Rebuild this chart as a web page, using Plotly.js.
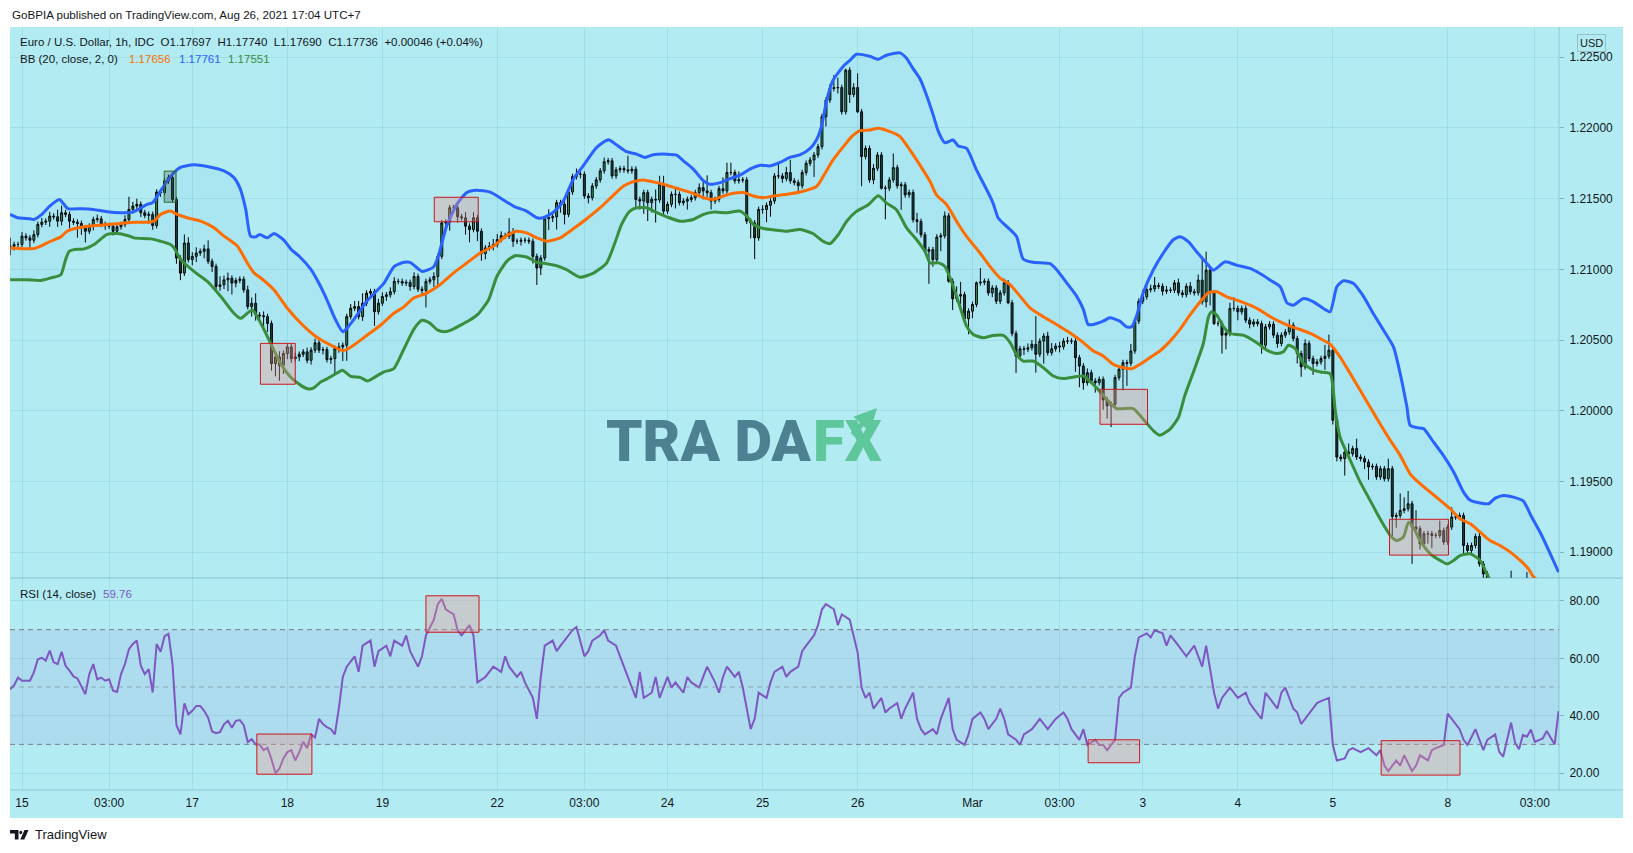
<!DOCTYPE html>
<html><head><meta charset="utf-8">
<script src="https://cdn.plot.ly/plotly-3.0.1.min.js"></script>
<style>html,body{margin:0;padding:0;background:#fff;}#chart{width:1633px;height:853px;}</style>
</head><body><div id="chart"></div>
<script>
// ---------- DATA ----------
const firstBar = -3;           // bar index of first candle (Feb 12 late hours)
const firstOpen = 1.21150;
const closes = [
1.21164,1.21176,1.21176,1.21235,1.21223,1.21206,1.21246,1.21318,1.21334,1.21341,
1.21377,1.21372,1.21341,1.21401,1.21389,1.21341,1.21334,1.21325,1.21294,1.21270,
1.21306,1.21353,1.21358,1.21318,1.21310,1.21306,1.21270,1.21301,1.21318,1.21353,
1.21424,1.21448,1.21460,1.21401,1.21382,1.21389,1.21310,1.21547,1.21543,1.21626,
1.21649,1.21495,1.21080,1.20974,1.21187,1.21069,1.21092,1.21116,1.21128,1.21145,
1.21057,1.21021,1.20879,1.20891,1.20926,1.20938,1.20903,1.20922,1.20931,1.20855,
1.20737,1.20761,1.20678,1.20673,1.20666,1.20618,1.20334,1.20381,1.20322,1.20405,
1.20452,1.20369,1.20381,1.20400,1.20417,1.20357,1.20429,1.20481,1.20429,1.20433,
1.20362,1.20369,1.20441,1.20452,1.20464,1.20666,1.20725,1.20737,1.20666,1.20761,
1.20832,1.20843,1.20701,1.20761,1.20808,1.20820,1.20843,1.20915,1.20915,1.20903,
1.20908,1.20879,1.20950,1.20860,1.20851,1.20915,1.20927,1.20950,1.21092,1.21329,
1.21334,1.21436,1.21436,1.21372,1.21365,1.21306,1.21282,1.21365,1.21270,1.21111,
1.21152,1.21164,1.21175,1.21211,1.21239,1.21235,1.21263,1.21199,1.21199,1.21206,
1.21206,1.21199,1.21092,1.21010,1.21081,1.21358,1.21365,1.21372,1.21472,1.21460,
1.21389,1.21547,1.21656,1.21673,1.21673,1.21519,1.21507,1.21590,1.21633,1.21697,
1.21761,1.21768,1.21661,1.21704,1.21713,1.21704,1.21697,1.21709,1.21495,1.21483,
1.21543,1.21472,1.21495,1.21491,1.21602,1.21412,1.21460,1.21531,1.21531,1.21472,
1.21483,1.21495,1.21507,1.21543,1.21578,1.21555,1.21543,1.21483,1.21495,1.21571,
1.21555,1.21685,1.21685,1.21626,1.21633,1.21633,1.21341,1.21329,1.21223,1.21424,
1.21424,1.21453,1.21483,1.21661,1.21661,1.21642,1.21685,1.21626,1.21614,1.21591,
1.21685,1.21750,1.21774,1.21809,1.21868,1.22080,1.22197,1.22279,1.22284,1.22286,
1.22115,1.22409,1.22237,1.22286,1.22115,1.21798,1.21856,1.21633,1.21715,1.21809,
1.21574,1.21574,1.21633,1.21720,1.21591,1.21598,1.21527,1.21544,1.21351,1.21339,
1.21245,1.21128,1.21140,1.21069,1.21229,1.21238,1.21379,1.20916,1.20792,1.20811,
1.20822,1.20651,1.20705,1.20752,1.20905,1.20909,1.20916,1.20834,1.20869,1.20775,
1.20834,1.20905,1.20764,1.20547,1.20388,1.20439,1.20435,1.20446,1.20470,1.20400,
1.20493,1.20529,1.20411,1.20439,1.20458,1.20453,1.20493,1.20493,1.20493,1.20376,
1.20317,1.20199,1.20270,1.20211,1.20199,1.20223,1.20077,1.20035,1.20047,1.20235,
1.20294,1.20341,1.20336,1.20423,1.20634,1.20775,1.20806,1.20857,1.20862,1.20886,
1.20881,1.20846,1.20853,1.20853,1.20905,1.20834,1.20822,1.20881,1.20842,1.20835,
1.20924,1.20771,1.20995,1.20835,1.20617,1.20617,1.20535,1.20547,1.20724,1.20724,
1.20700,1.20724,1.20641,1.20613,1.20629,1.20617,1.20464,1.20594,1.20613,1.20535,
1.20476,1.20535,1.20558,1.20606,1.20511,1.20405,1.20311,1.20476,1.20370,1.20334,
1.20346,1.20370,1.20386,1.20429,1.19933,1.19673,1.19662,1.19709,1.19697,1.19733,
1.19673,1.19662,1.19638,1.19603,1.19607,1.19532,1.19591,1.19520,1.19591,1.19253,
1.19260,1.19296,1.19308,1.19343,1.19178,1.19166,1.19060,1.19131,1.19131,1.19119,
1.19119,1.19154,1.19072,1.19178,1.19249,1.19249,1.19260,1.19048,1.19013,1.19048,
1.19112,1.18918,1.18847,1.18760,1.18720,1.18690,1.18710,1.18680,1.18730,1.18760,
1.18700,1.18720,1.18690,1.18750,1.18720,1.18700,1.18740,1.18720,1.18710,1.18690,
1.18740,1.18760];
// upper / lower wick length beyond the body, in pips (0.0001)
const wickHiPips = [
6,2,2,3,2,2,3,2,3,2, 3,2,5,5,2,2,2,2,2,2, 2,2,3,2,2,2,2,2,2,3, 9,3,4,2,2,2,2,2,2,2,
2,4,2,2,6,4,3,4,2,3, 6,2,2,6,3,4,2,2,2,2, 3,4,7,2,3,2,2,3,4,2, 2,2,3,2,2,3,2,3,2,2,
2,2,2,3,2,2,3,4,4,7, 2,2,2,3,3,2,3,3,2,2, 2,2,3,2,2,2,2,3,2,2, 2,2,2,4,2,4,2,4,2,2,
2,3,4,4,3,2,10,3,2,2, 2,2,2,2,2,2,6,2,2,2, 5,2,2,4,2,2,2,2,2,2, 3,2,2,2,2,2,10,2,2,2,
2,2,2,7,6,6,2,2,5,2, 2,2,2,2,3,4,11,2,2,2, 8,7,7,2,6,2,2,2,2,2, 3,2,2,2,9,2,4,9,2,2,
2,2,2,2,2,2,2,3,9,7, 2,1,2,3,10,2,2,2,3,2, 2,2,2,10,2,2,2,2,2,5, 2,2,2,2,2,2,3,2,2,7,
9,2,2,2,1,10,2,2,2,2, 2,3,2,2,2,2,2,3,3,20, 2,2,3,4,2,3,2,3,2,2, 2,2,3,2,2,2,2,2,2,2,
2,2,2,5,2,2,5,2,3,6, 2,2,3,2,2,3,2,2,3,2, 4,15,13,2,2,2,2,2,4,8, 2,2,2,2,2,2,2,2,2,2,
2,2,2,4,2,2,2,3,2,2, 2,2,8,11,2,2,2,2,6,2, 7,2,2,2,2,2,2,2,7,2, 2,12,8,9,2,12,2,2,2,2,
2,7,2,2,7,2,2,2,2,2, 2,4,2,2,3,2,2,3,4,11, 2,3,4,11,2,2,3,2,2,2, 2,2];
const wickLoPips = [
5,3,2,2,2,6,2,2,2,2, 4,2,4,3,2,5,2,10,5,8, 2,3,2,2,3,2,3,2,2,2, 2,2,2,3,2,6,3,2,3,2,
2,2,4,5,2,2,4,4,2,5, 2,4,2,3,3,8,8,3,2,2, 2,7,4,3,8,6,5,9,11,6, 4,3,2,3,2,2,3,2,2,3,
2,3,11,3,10,11,2,2,2,3, 2,3,10,2,2,3,2,2,2,2, 2,3,2,2,4,12,2,5,6,2, 2,6,2,4,2,6,9,2,7,5,
4,2,3,2,2,2,2,4,2,3, 2,2,5,12,5,2,8,3,9,6, 7,2,2,2,3,2,4,2,2,2, 2,2,2,2,2,2,2,2,7,6,
9,13,7,16,2,2,2,2,10,2, 2,6,2,2,2,6,3,6,2,2, 2,2,2,2,2,2,2,11,15,2, 3,9,8,2,2,3,2,2,2,5,
2,2,2,12,2,2,7,2,2,4, 2,2,6,2,1,21,2,2,3,2, 1,22,2,2,2,17,2,2,2,8, 2,1,23,5,2,10,2,1,8,2,
6,3,11,5,2,2,2,2,3,2, 2,2,1,2,12,2,4,2,2,13, 2,16,2,2,2,4,2,2,2,10, 15,5,2,2,7,2,7,9,15,2,
2,15,16,2,2,2,2,2,2,2, 2,3,2,2,2,2,2,2,2,2, 2,2,4,9,1,2,13,10,2,2, 6,2,2,3,2,2,6,2,2,2,
3,2,2,2,2,7,7,2,2,8, 2,2,8,2,3,3,2,12,2,2, 2,2,5,9,2,2,2,2,2,14, 8,2,2,2,26,2,4,2,7,9,
2,2,2,2,2,2,2,6,2,2, 2,2,3,3,2,2,3,2,3,2, 2,2,2,2,2,3,2,2,2,2, 2,2];

// Bollinger Bands (20, close, 2) read at bar positions
const bbUpperBars = [-3,-1,2,3,5,7,9.5,10.6,11.6,15,18,21.5,25,28,31.6,33,35,36.7,38.4,40,43.4,46.8,51,53.5,55,56.5,57.7,59,60,62,63.6,66,68,70,73,75.4,77,79,81,82,84,85.5,87,89,91.4,94,96.5,98,101,103.9,105.1,107.2,109.8,112.3,114.8,118.2,120.7,124.1,127.4,130,131.6,134.2,136.7,139.2,141.7,145.1,148.1,150.2,152.7,155.2,157.3,159.4,162.8,165.3,167,169.5,172.1,173.7,176.3,178.8,181.3,183.8,186.4,188.9,191.4,193.9,196.4,199,200.6,201.9,203.2,204.8,207.4,209.1,210.7,214.1,216.2,218.3,221.7,223.4,225,226.7,228.4,230.1,231.4,233,235.1,236.4,238.5,241,243.6,245.2,246.5,248.6,251.1,252.8,255.3,259.6,261.2,263.8,266.3,268,269.2,270.5,273,274.7,277.2,278.9,280.2,281.4,283.1,285.7,288.2,290.7,292.4,294.5,296.6,299.2,300.8,303.8,306.7,310.1,312.6,315.2,317.7,319.4,321,323.6,326.1,328.6,330.3,332,333.7,336.2,338.7,341.2,343.8,346.3,348,349.7,350.5,352.2,353.9,356.4,358.9,361.5,364,365.7,368.2,370.3,372,374.1,376.6,379.1,381.2,383.3,385.9,388];
const bbUpper = [1.21389,1.21365,1.21358,1.21353,1.21389,1.21448,1.21495,1.21460,1.21429,1.21429,1.21424,1.21408,1.21401,1.21405,1.21460,1.21472,1.21555,1.21626,1.21685,1.21721,1.21740,1.21728,1.21697,1.21650,1.21578,1.21424,1.21235,1.21230,1.21247,1.21223,1.21254,1.21211,1.21140,1.21093,1.20998,1.20879,1.20785,1.20654,1.20559,1.20583,1.20654,1.20713,1.20773,1.20832,1.20903,1.21021,1.21050,1.21050,1.20986,1.21017,1.21092,1.21306,1.21460,1.21543,1.21559,1.21547,1.21507,1.21448,1.21412,1.21365,1.21365,1.21405,1.21483,1.21638,1.21732,1.21863,1.21917,1.21879,1.21832,1.21815,1.21792,1.21811,1.21815,1.21808,1.21768,1.21709,1.21626,1.21602,1.21614,1.21642,1.21666,1.21709,1.21737,1.21732,1.21756,1.21792,1.21809,1.21856,1.21915,1.22014,1.22197,1.22338,1.22437,1.22479,1.22521,1.22507,1.22486,1.22514,1.22531,1.22491,1.22420,1.22350,1.22232,1.22091,1.21974,1.21896,1.21915,1.21873,1.21856,1.21704,1.21563,1.21469,1.21363,1.21304,1.21234,1.21074,1.21050,1.21041,1.20999,1.20905,1.20811,1.20717,1.20611,1.20611,1.20634,1.20658,1.20634,1.20594,1.20594,1.20669,1.20834,1.20999,1.21116,1.21210,1.21231,1.21196,1.21125,1.21042,1.20995,1.21054,1.21030,1.21007,1.20971,1.20924,1.20877,1.20764,1.20747,1.20794,1.20771,1.20724,1.20700,1.20877,1.20920,1.20901,1.20811,1.20688,1.20570,1.20452,1.20263,1.20027,1.19898,1.19881,1.19874,1.19780,1.19685,1.19567,1.19425,1.19367,1.19348,1.19343,1.19383,1.19402,1.19390,1.19362,1.19249,1.19143,1.18989,1.18859];
const bbBasisBars = [-3,-1.2,3,4.7,7.2,9.8,11.4,13.1,15.7,19,21.5,24.9,28.3,31.6,33.3,35,37.5,39.2,41.7,45.1,48.5,51,54.4,56.9,58.6,60.3,63.6,67,70.4,73.7,76.3,78.8,80.5,81.7,83.8,87.2,90.6,93.9,96.5,98.8,102.2,105.5,108.9,112.3,115.7,119,122.4,124.9,127.4,130,132.5,135.9,139.2,142.6,146,149.3,151.9,154.4,156.9,159.4,162.8,166.2,169.5,172.1,174.6,177.1,179.6,182.2,184.7,187.2,189.7,193.1,196.5,200.6,202.3,204.8,207.4,209.5,211.6,214.1,216.2,219.2,221.7,224.2,226.7,229.3,230.9,233.5,236,238.5,241.9,244.4,246.9,249.5,252,254.5,257.9,261.2,264.6,268,270.5,273,275.5,278.1,280.2,282.3,284.8,287.3,289.9,292.4,294.9,297.5,299.6,301.7,304.2,306.7,310.1,312.6,315.2,317.7,320.2,322.7,325.3,327.8,330.3,332.8,335.4,337.9,340.4,342.9,345.5,348,350.5,353,355.6,358.1,360.6,363.1,365.7,368.2,370.7,373.2,375.8,378.3,380.4,381.7,385,388];
const bbBasis = [1.21152,1.21149,1.21147,1.21164,1.21199,1.21230,1.21270,1.21287,1.21301,1.21311,1.21318,1.21325,1.21334,1.21334,1.21341,1.21389,1.21413,1.21389,1.21365,1.21341,1.21294,1.21235,1.21164,1.21045,1.20974,1.20939,1.20856,1.20725,1.20619,1.20536,1.20488,1.20453,1.20429,1.20429,1.20465,1.20536,1.20607,1.20690,1.20737,1.20796,1.20832,1.20891,1.20974,1.21045,1.21116,1.21164,1.21239,1.21270,1.21258,1.21223,1.21199,1.21223,1.21287,1.21358,1.21436,1.21524,1.21590,1.21621,1.21633,1.21619,1.21595,1.21566,1.21538,1.21507,1.21495,1.21519,1.21538,1.21543,1.21519,1.21507,1.21519,1.21531,1.21547,1.21586,1.21657,1.21774,1.21868,1.21939,1.21981,1.21986,1.21998,1.21974,1.21939,1.21845,1.21739,1.21621,1.21527,1.21457,1.21339,1.21234,1.21116,1.21022,1.20940,1.20893,1.20811,1.20728,1.20665,1.20611,1.20552,1.20482,1.20423,1.20388,1.20329,1.20305,1.20298,1.20329,1.20376,1.20423,1.20493,1.20576,1.20676,1.20771,1.20835,1.20842,1.20806,1.20783,1.20747,1.20712,1.20665,1.20629,1.20599,1.20575,1.20547,1.20511,1.20471,1.20381,1.20263,1.20145,1.20027,1.19909,1.19791,1.19685,1.19555,1.19485,1.19425,1.19367,1.19308,1.19237,1.19201,1.19142,1.19083,1.19048,1.19001,1.18942,1.18883,1.18824,1.18760,1.18700];
const bbLowerBars = [-3,1.3,4.7,7.2,9.8,11,11.9,13.1,15.7,18.2,21.5,24.1,26.6,28.3,32.5,35,37.5,38.4,40.1,43.4,46.8,50.2,53.5,55.2,56.9,58.2,60.3,62.8,65.3,67.8,70.4,72.1,73.7,75.4,77.1,79.6,80.9,83,85.5,87.2,88.9,91.4,93.9,96.5,99,101,103,105,107,109,111,113,115,117.8,119.9,122.4,124.5,127.4,130,132.5,135,137.5,140.9,144.3,147.6,149.7,151.4,153.5,155.2,157.7,160.3,162.8,166.2,169.5,172.1,174.6,178,181.3,183,184.7,187.2,190.6,193.1,196.5,199.8,202.3,204,206.1,208.2,210.7,213.7,216.2,218.3,220.8,223.4,225.9,228,229.3,231.4,233,235.1,236.8,238.5,240.2,242.7,245.2,247.8,249.5,251.1,252.8,255.3,257.9,260.4,262.9,266.3,268,271.3,273.9,276.4,280.6,283.1,285.7,287.3,289.9,292,293.6,295.8,298.3,299.6,300.4,301.7,303.4,305,308.4,311.8,314.3,316.8,318.5,319.8,321.5,323.6,326.1,327.8,330.3,331.6,332.8,335.4,337.9,340.4,342.9,345.5,347.1,348.8,350.1,351.3,353,355.6,358.1,359.8,361.5,363.1,365.7,368.2,369.9,372,380,388];
const bbLower = [1.20927,1.20927,1.20922,1.20939,1.20962,1.21069,1.21128,1.21140,1.21145,1.21176,1.21247,1.21254,1.21240,1.21223,1.21216,1.21199,1.21176,1.21152,1.21069,1.20986,1.20915,1.20808,1.20690,1.20654,1.20690,1.20713,1.20619,1.20476,1.20334,1.20239,1.20180,1.20156,1.20163,1.20204,1.20228,1.20268,1.20287,1.20244,1.20235,1.20211,1.20235,1.20275,1.20299,1.20441,1.20580,1.20640,1.20620,1.20570,1.20560,1.20580,1.20610,1.20640,1.20680,1.20784,1.20950,1.21057,1.21097,1.21088,1.21050,1.21040,1.21026,1.20998,1.20945,1.20974,1.21045,1.21187,1.21318,1.21412,1.21436,1.21436,1.21401,1.21372,1.21341,1.21353,1.21389,1.21405,1.21401,1.21412,1.21377,1.21318,1.21289,1.21277,1.21270,1.21282,1.21252,1.21198,1.21182,1.21245,1.21339,1.21410,1.21457,1.21520,1.21469,1.21422,1.21292,1.21210,1.21128,1.21046,1.21046,1.21022,1.20881,1.20740,1.20599,1.20540,1.20517,1.20533,1.20533,1.20482,1.20399,1.20352,1.20352,1.20305,1.20246,1.20228,1.20242,1.20246,1.20164,1.20082,1.20016,1.20016,1.19941,1.19859,1.19828,1.19871,1.19953,1.20106,1.20275,1.20476,1.20665,1.20700,1.20676,1.20594,1.20547,1.20535,1.20481,1.20429,1.20405,1.20417,1.20464,1.20440,1.20334,1.20287,1.20275,1.20263,1.20004,1.19815,1.19650,1.19496,1.19367,1.19237,1.19119,1.19083,1.19107,1.19213,1.19178,1.19083,1.18989,1.18942,1.18918,1.18942,1.18977,1.18989,1.18942,1.18847,1.18740,1.18600,1.18580];

// RSI (14, close)
const rsiBars = [-3,-2,-1,0,2,3,4,5,6,7,8,9,10,11,12,13,14,16,17,18,19,20,21,22,23,24,25,26,27,28,29,30,31,32,33,34,35,36,37,38,39,40,41,42,43,44,45,46,47,48,49,50,51,52,53,54,55,56,57,58,59,60,61,62,63,64,65,66,67,68,69,70,71,72,73,74,75,76,77,78,79,80,81,82,84,85,86,88,89,90,92,93,94,96,97,98,100,101,102,104,105,106,107,109,110,111,113,114,115,117,118,119,121,122,123,125,126,127,129,130,131,132,134,135,136,138,139,140,142,143,144,146,147,148,150,151,152,154,155,156,157,159,160,161,163,164,165,167,168,169,171,172,173,175,176,177,178,180,181,182,184,185,186,188,189,190,192,193,194,196,197,198,200,201,202,203,205,206,207,209,210,211,212,213,214,215,217,218,219,221,222,223,225,226,227,228,230,231,232,234,235,236,238,239,240,242,243,244,246,247,248,249,251,252,253,255,256,257,259,260,261,263,264,265,267,268,269,271,272,273,274,276,277,278,280,281,282,284,285,286,288,289,290,292,293,294,296,297,298,299,301,302,303,305,306,307,309,310,311,313,314,315,317,318,319,321,322,323,324,326,327,328,330,331,332,334,335,336,338,339,340,342,343,344,345,347,348,349,351,352,353,355,356,357,359,360,361,363,364,365,367,368,369,370,372,373,374,376,377,378,379,380,381,382,384,385,387,388];
const rsiValues = [49.2,50.6,53.3,52.2,52.2,55.1,59.7,60.2,59.2,62.7,58.6,58.0,62.3,57.4,55.7,53.7,53.0,47.5,54.5,58.0,52.7,53.3,52.2,52.7,48.7,48.3,54.5,58.0,63.2,65.0,66.2,57.4,54.5,56.2,48.1,65.0,62.3,67.7,68.5,58.0,36.7,33.5,44.3,40.5,41.7,43.4,43.4,41.7,39.3,34.5,33.9,34.3,37.0,38.2,35.8,38.2,38.5,36.7,30.8,31.8,30.0,30.0,28.0,28.8,24.8,20.0,21.5,25.1,27.3,28.0,24.4,27.3,30.9,28.7,33.5,32.4,38.9,37.1,36.0,35.3,33.5,42.5,53.5,57.1,60.7,55.3,64.4,66.2,57.1,62.5,64.4,60.7,66.2,64.4,68.0,62.5,57.1,60.7,68.0,73.5,78.9,80.7,77.1,75.3,69.8,68.0,71.6,68.0,51.6,53.5,55.3,57.1,55.3,60.7,57.1,53.5,55.3,51.6,46.2,38.9,53.5,64.4,66.2,62.5,64.4,68.0,69.8,70.9,60.7,62.5,66.2,68.0,69.8,66.2,64.4,60.7,57.1,49.8,46.2,55.3,46.2,48.0,53.5,46.2,53.5,49.8,51.6,48.0,53.5,51.6,49.8,53.5,57.1,51.6,48.0,53.5,57.1,53.5,55.3,49.8,35.3,38.9,48.0,46.2,51.6,55.3,57.1,53.5,55.3,57.1,62.5,64.4,68.0,71.6,77.1,78.9,77.1,71.6,75.3,73.5,68.0,62.0,49.8,46.2,48.0,42.5,46.2,41.1,42.5,44.4,38.9,42.5,48.0,38.9,35.3,33.5,35.3,33.5,38.9,46.2,35.3,31.6,29.8,33.5,38.9,41.1,38.9,35.3,38.9,42.5,38.9,33.5,31.6,29.8,33.5,35.3,37.1,38.9,35.3,37.1,38.9,41.1,38.9,35.3,31.6,35.3,29.8,31.6,29.8,29.8,28.0,31.6,46.2,48.0,49.8,60.7,67.3,68.7,67.3,69.8,68.7,64.4,68.0,64.4,62.5,60.7,64.4,60.7,57.1,64.4,48.0,42.5,46.2,49.8,48.0,46.2,48.0,44.4,42.5,38.9,48.0,46.2,42.5,48.0,49.8,42.5,41.1,37.1,38.9,42.5,44.4,45.1,46.2,29.8,24.4,25.1,28.0,28.7,27.3,28.0,28.7,26.2,28.0,22.6,20.7,24.4,22.6,26.2,20.7,22.6,26.2,24.4,28.0,28.7,29.8,40.7,38.9,35.3,31.6,29.8,35.3,31.6,28.0,31.6,33.5,27.4,25.7,37.6,30.6,28.3,33.3,32.7,35.2,30.9,32.1,34.7,30.0,41.6];

// Time axis labels (bar index of each label)
const timeTickBars = [0,22,43,67,91,120,142,163,187,211,240,262,283,307,331,360,382];
const timeTickText = ["15","03:00","17","18","19","22","03:00","24","25","26","Mar","03:00","3","4","5","8","03:00"];
const priceTicks = [1.19,1.195,1.2,1.205,1.21,1.215,1.22,1.225];
const rsiTicks = [20,40,60,80];
const rsiLevels = [70,50,30];

// Highlight rectangles drawn by the author
const priceBoxX0 = [35.9,60.2,104.1,272.2,345.3];
const priceBoxX1 = [38.9,69.0,115.2,284.2,360.2];
const priceBoxLow = [1.21475,1.20188,1.21337,1.19905,1.18980];
const priceBoxHigh = [1.21695,1.20477,1.21510,1.20152,1.19233];
const rsiBoxX0 = [59.3,102.0,269.2,343.2];
const rsiBoxX1 = [73.2,115.4,282.2,363.1];
const rsiBoxLow = [19.6,69.1,23.6,19.3];
const rsiBoxHigh = [33.6,81.8,31.6,31.3];

// ---------- BUILD ----------
const bars = closes.map((_, i) => firstBar + i);
const opens = closes.map((c, i) => i === 0 ? firstOpen : closes[i - 1]);
const highs = closes.map((c, i) => Math.max(opens[i], c) + wickHiPips[i] * 1e-4);
const lows = closes.map((c, i) => Math.min(opens[i], c) - wickLoPips[i] * 1e-4);

const W = 1633, H = 853, ML = 10, MR = 74, MT = 27, MB = 63;
const PW = W - ML - MR, PH = H - MT - MB;
const px = x => (x - ML) / PW;
const py = y => (H - MB - y) / PH;
const split = py(578);

const CYAN = '#b2ebf2';
const GRID = 'rgba(30,110,125,0.10)';
const TXT = '#131722';
const FONT = 'Liberation Sans, Arial, sans-serif';
const BOXFILL = 'rgba(232,150,140,0.36)';

const traces = [
  {type:'scatter', mode:'lines', x:bbLowerBars, y:bbLower, xaxis:'x2', yaxis:'y',
   line:{width:0, shape:'spline', smoothing:0.6}, hoverinfo:'skip', showlegend:false},
  {type:'scatter', mode:'lines', x:bbUpperBars, y:bbUpper, xaxis:'x2', yaxis:'y',
   line:{width:0, shape:'spline', smoothing:0.6}, fill:'tonexty', fillcolor:'rgba(33,150,243,0.06)',
   hoverinfo:'skip', showlegend:false},
  {type:'candlestick', x:bars, open:opens, high:highs, low:lows, close:closes, xaxis:'x2', yaxis:'y',
   increasing:{line:{color:'#000000', width:1}, fillcolor:'#3e8e41'},
   decreasing:{line:{color:'#000000', width:1}, fillcolor:'#163d34'},
   whiskerwidth:0, hoverinfo:'skip', showlegend:false},
  {type:'scatter', mode:'lines', x:bbLowerBars, y:bbLower, xaxis:'x2', yaxis:'y',
   line:{color:'#388e3c', width:3, shape:'spline', smoothing:0.6}, hoverinfo:'skip', showlegend:false},
  {type:'scatter', mode:'lines', x:bbUpperBars, y:bbUpper, xaxis:'x2', yaxis:'y',
   line:{color:'#2962ff', width:3, shape:'spline', smoothing:0.6}, hoverinfo:'skip', showlegend:false},
  {type:'scatter', mode:'lines', x:bbBasisBars, y:bbBasis, xaxis:'x2', yaxis:'y',
   line:{color:'#ff6d00', width:3, shape:'spline', smoothing:0.6}, hoverinfo:'skip', showlegend:false},
  {type:'scatter', mode:'lines', x:rsiBars, y:rsiValues, xaxis:'x', yaxis:'y2',
   line:{color:'#7e57c2', width:2}, hoverinfo:'skip', showlegend:false}
];

const shapes = [
  {type:'rect', xref:'paper', yref:'paper', x0:px(10), x1:px(1623), y0:py(818), y1:py(27),
   fillcolor:CYAN, line:{width:0}, layer:'below'},
  {type:'rect', xref:'x domain', yref:'y2', x0:0, x1:1, y0:30, y1:70,
   fillcolor:'rgba(126,87,194,0.10)', line:{width:0}, layer:'below'},
  {type:'line', xref:'paper', yref:'paper', x0:px(10), x1:px(1623), y0:split, y1:split,
   line:{color:'rgba(60,120,135,0.35)', width:1}},
  {type:'line', xref:'paper', yref:'paper', x0:1, x1:1, y0:0, y1:1,
   line:{color:'rgba(60,120,135,0.30)', width:1}},
  {type:'line', xref:'paper', yref:'paper', x0:px(10), x1:px(1623), y0:0, y1:0,
   line:{color:'rgba(60,120,135,0.30)', width:1}}
];
rsiLevels.forEach(v => shapes.push({type:'line', xref:'x domain', yref:'y2', x0:0, x1:1, y0:v, y1:v,
  line:{color: v === 50 ? 'rgba(120,123,134,0.55)' : 'rgba(120,123,134,0.95)', width:1, dash:'5px,4px'}}));
priceBoxX0.forEach((x0, i) => shapes.push({type:'rect', xref:'x2', yref:'y', x0:x0, x1:priceBoxX1[i],
  y0:priceBoxLow[i], y1:priceBoxHigh[i], fillcolor: i === 0 ? 'rgba(60,90,80,0.30)' : BOXFILL,
  line:{color: i === 0 ? '#2e6b30' : '#d0161c', width:1}, layer:'above'}));
rsiBoxX0.forEach((x0, i) => shapes.push({type:'rect', xref:'x', yref:'y2', x0:x0, x1:rsiBoxX1[i],
  y0:rsiBoxLow[i], y1:rsiBoxHigh[i], fillcolor:BOXFILL,
  line:{color:'#d0161c', width:1}, layer:'above'}));
// TradingView logo
shapes.push({type:'path', xref:'paper', yref:'paper', fillcolor:'#131722', line:{width:0},
  path:`M ${px(10)},${py(830)} L ${px(18.5)},${py(830)} L ${px(18.5)},${py(839.5)} L ${px(14.8)},${py(839.5)} L ${px(14.8)},${py(833.6)} L ${px(10)},${py(833.6)} Z`});
shapes.push({type:'circle', xref:'paper', yref:'paper', fillcolor:'#131722', line:{width:0},
  x0:px(19.3), x1:px(22.3), y0:py(834.2), y1:py(830.8)});
shapes.push({type:'path', xref:'paper', yref:'paper', fillcolor:'#131722', line:{width:0},
  path:`M ${px(24.5)},${py(830)} L ${px(28.5)},${py(830)} L ${px(24.3)},${py(839.5)} L ${px(20.3)},${py(839.5)} Z`});

function txt(x, y, text, opts) {
  return Object.assign({xref:'paper', yref:'paper', x:px(x), y:py(y), text:text, showarrow:false,
    xanchor:'left', yanchor:'middle', font:{family:FONT, size:11.5, color:TXT}}, opts || {});
}
const NB = '\u00a0\u00a0';
const annotations = [
  txt(10, 15, 'GoBPIA published on TradingView.com, Aug 26, 2021 17:04 UTC+7', {font:{family:FONT, size:11.6, color:TXT}}),
  txt(18, 42, 'Euro / U.S. Dollar, 1h, IDC' + NB + 'O1.17697' + NB + 'H1.17740' + NB + 'L1.17690' + NB + 'C1.17736' + NB + '+0.00046 (+0.04%)'),
  txt(18, 59, 'BB (20, close, 2, 0)'),
  txt(127, 59, '1.17656', {font:{family:FONT, size:11.5, color:'#ff6d00'}}),
  txt(177, 59, '1.17761', {font:{family:FONT, size:11.5, color:'#2962ff'}}),
  txt(226, 59, '1.17551', {font:{family:FONT, size:11.5, color:'#388e3c'}}),
  txt(18, 594, 'RSI (14, close)'),
  txt(101, 594, '59.76', {font:{family:FONT, size:11.5, color:'#7e57c2'}}),
  txt(1591, 43, 'USD', {xanchor:'center', font:{family:FONT, size:11, color:TXT},
    bordercolor:'rgba(110,140,150,0.45)', borderwidth:1, borderpad:2}),
  txt(33, 834, 'TradingView', {font:{family:FONT, size:13, color:TXT}}),
  txt(604, 441, 'TRA DA', {font:{family:'Roboto, DejaVu Sans, sans-serif', size:58, color:'#4d8191', weight:900}}),
  txt(811, 441, 'FX', {font:{family:'Roboto, DejaVu Sans, sans-serif', size:58, color:'#5fc79c', weight:900}}),
  {xref:'paper', yref:'paper', x:px(877), y:py(408), ax:-26, ay:28, text:'', showarrow:true,
   arrowhead:2, arrowsize:0.9, arrowwidth:5, arrowcolor:'#5fc79c'}
];

const layout = {
  width:W, height:H, margin:{l:ML, r:MR, t:MT, b:MB, pad:0},
  paper_bgcolor:'#ffffff', plot_bgcolor:'rgba(0,0,0,0)',
  font:{family:FONT, size:12, color:TXT}, showlegend:false, hovermode:false,
  xaxis:{domain:[0,1], anchor:'y2', range:[-3.03, 388.1], tickmode:'array', tickvals:timeTickBars,
    ticktext:timeTickText, showgrid:true, gridcolor:GRID, zeroline:false, showline:false, ticks:'',
    tickfont:{family:FONT, size:12, color:TXT}, ticklabelstandoff:4, fixedrange:true},
  xaxis2:{domain:[0,1], anchor:'y', matches:'x', showticklabels:false, showgrid:true, gridcolor:GRID,
    zeroline:false, showline:false, ticks:'', tickmode:'array', tickvals:timeTickBars,
    rangeslider:{visible:false}, fixedrange:true},
  yaxis:{domain:[split,1], anchor:'x2', side:'right', range:[1.18818, 1.22714], tickmode:'array',
    tickvals:priceTicks, ticktext:priceTicks.map(v => v.toFixed(5)), showgrid:true, gridcolor:GRID,
    zeroline:false, showline:false, ticks:'outside', ticklen:4, tickcolor:'rgba(60,120,135,0.45)',
    tickfont:{family:FONT, size:12, color:TXT}, ticklabelstandoff:3, fixedrange:true},
  yaxis2:{domain:[0,split], anchor:'x', side:'right', range:[14.1, 88], tickmode:'array',
    tickvals:rsiTicks, ticktext:rsiTicks.map(v => v.toFixed(2)), showgrid:true, gridcolor:GRID,
    zeroline:false, showline:false, ticks:'outside', ticklen:4, tickcolor:'rgba(60,120,135,0.45)',
    tickfont:{family:FONT, size:12, color:TXT}, ticklabelstandoff:3, fixedrange:true},
  shapes:shapes, annotations:annotations
};

Plotly.newPlot('chart', traces, layout, {staticPlot:true, displayModeBar:false});
</script></body></html>
